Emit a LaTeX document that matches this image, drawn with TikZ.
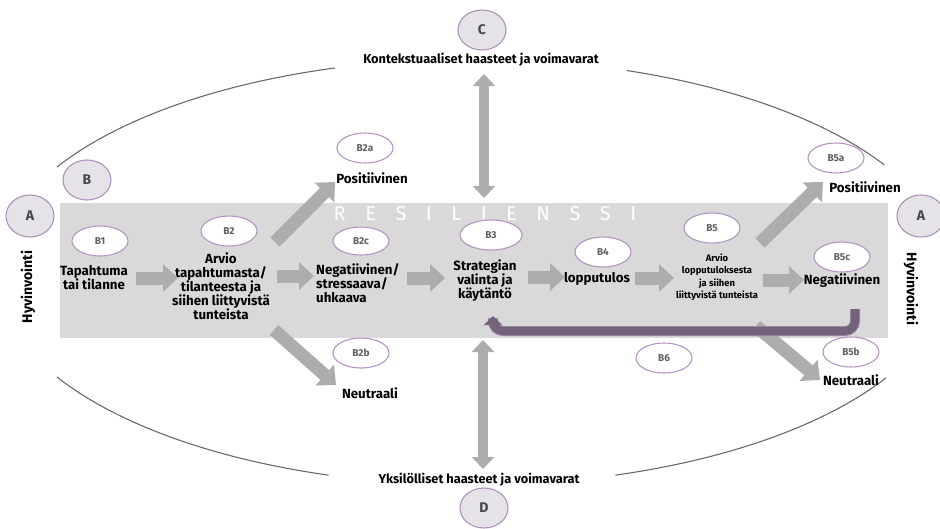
\documentclass[tikz,border=0pt]{standalone}
\usepackage{fontspec}
\setmainfont{Fira Sans}
\usetikzlibrary{arrows.meta,shapes.geometric}

\definecolor{band}{HTML}{D9D9D9}
\definecolor{flow}{HTML}{ADADAD}
\definecolor{ring}{HTML}{B495C2}
\definecolor{tagtext}{HTML}{606060}
\definecolor{loopc}{HTML}{74627A}
\definecolor{loopedge}{HTML}{9C8AA4}
\definecolor{capfill}{HTML}{E5E3E7}
\definecolor{arcc}{HTML}{6A6A6A}

\begin{document}
\begin{tikzpicture}[x=1pt,y=-1pt,
  tag/.style={ellipse, draw=ring, line width=1.1pt, fill=white,
    minimum width=56pt, minimum height=30pt, inner sep=0pt,
    text=tagtext, font=\fontsize{10}{10}\selectfont\bfseries},
  bigtag/.style={tag, fill=capfill, draw=ring!85!gray,
    minimum width=48pt, minimum height=42pt,
    text=black!72, font=\fontsize{14}{14}\selectfont\bfseries},
  lbl/.style={font=\fontsize{13.3}{14}\selectfont\bfseries, align=center, inner sep=0pt},
  small/.style={font=\fontsize{9.4}{12.5}\selectfont\bfseries, align=center, inner sep=0pt},
  side/.style={font=\fontsize{14}{14}\selectfont\bfseries, inner sep=0pt},
  edge/.style={font=\fontsize{12.8}{14}\selectfont\bfseries, inner sep=0pt},
  flowarrow/.style={draw=flow, line width=13pt, -{Triangle[width=27pt,length=15pt]}},
  twoway/.style={draw=flow, line width=10pt,
    {Triangle[width=22pt,length=12pt]}-{Triangle[width=22pt,length=12pt]}},
  feedback/.style={draw=loopc, line width=8pt, rounded corners=10pt,
    -{Triangle[width=18pt,length=9pt]}},
  rim/.style={draw=arcc, line width=1.1pt}
]
\useasboundingbox (0,0) rectangle (940,528);

% outer ring, drawn as four open arcs of one ellipse
\begin{scope}[shift={(472,272)}]
  \draw[rim] (209.5:477 and 213) arc[start angle=209.5, end angle=253.3, x radius=477, y radius=213];
  \draw[rim] (288.9:477 and 213) arc[start angle=288.9, end angle=329.8, x radius=477, y radius=213];
  \draw[rim] (150.5:477 and 213) arc[start angle=150.5, end angle=107.5, x radius=477, y radius=213];
  \draw[rim] (72.5:477 and 213) arc[start angle=72.5, end angle=29.8, x radius=477, y radius=213];
\end{scope}

% resilience band
\fill[band] (60,203) rectangle (888,338);
\node[text=white, inner sep=0pt, font=\fontsize{20}{20}\selectfont] (res) at (485,214)
  {\spaceskip=19.5pt\relax R E S I L I E N S S I};

% texts
\node[lbl] (t1) at (94,278) {Tapahtuma\\tai tilanne};
\node[lbl] (t2) at (221,286) {Arvio\\tapahtumasta/\\tilanteesta ja\\siihen liittyvistä\\tunteista};
\node[lbl] (t2a) at (372,178) {Positiivinen};
\node[lbl] (t2b) at (370,393) {Neutraali};
\node[lbl, align=left, anchor=west] (t2c) at (316,283) {Negatiivinen/\\stressaava/\\uhkaava};
\node[lbl] (t3) at (485,281) {Strategian\\valinta ja\\käytäntö};
\node[lbl] (t4) at (597,279) {lopputulos};
\node[small] (t5) at (717,277) {Arvio\\lopputuloksesta\\ja siihen\\liittyvistä tunteista};
\node[lbl] (t5a) at (865,187) {Positiivinen};
\node[lbl] (t5b) at (851,380) {Neutraali};
\node[lbl] (t5c) at (842,281) {Negatiivinen};
\node[edge] (tc) at (481,60) {Kontekstuaaliset haasteet ja voimavarat};
\node[edge] (td) at (479,480) {Yksilölliset haasteet ja voimavarat};
\node[side, rotate=90] (hl) at (28,287) {Hyvinvointi};
\node[side, rotate=-90] (hr) at (911,289) {Hyvinvointi};

% arrow end points
\coordinate (a1s) at (136,278);  \coordinate (a1e) at (178,278);
\coordinate (a2s) at (277,276);  \coordinate (a2e) at (314,276);
\coordinate (a3s) at (407,278);  \coordinate (a3e) at (445,278);
\coordinate (a4s) at (528,277);  \coordinate (a4e) at (565,277);
\coordinate (a5s) at (635,278);  \coordinate (a5e) at (674,278);
\coordinate (a6s) at (763,280);  \coordinate (a6e) at (804,280);
\coordinate (upLs) at (275,242); \coordinate (upLe) at (335,182);
\coordinate (dnLs) at (274,330); \coordinate (dnLe) at (336,385);
\coordinate (upRs) at (760,243); \coordinate (upRe) at (823,182);
\coordinate (dnRs) at (756,326); \coordinate (dnRe) at (820,380);
\coordinate (cTop) at (484,74);  \coordinate (cBot) at (484,198);
\coordinate (dTop) at (483,340); \coordinate (dBot) at (483,469);
\coordinate (fbS) at (855,309);  \coordinate (fbC1) at (855,331);
\coordinate (fbC2) at (493,331); \coordinate (fbE) at (493,316);

% process arrows
\draw[flowarrow] (a1s) -- (a1e);
\draw[flowarrow] (a2s) -- (a2e);
\draw[flowarrow] (a3s) -- (a3e);
\draw[flowarrow] (a4s) -- (a4e);
\draw[flowarrow] (a5s) -- (a5e);
\draw[flowarrow] (a6s) -- (a6e);
\draw[flowarrow] (upLs) -- (upLe);
\draw[flowarrow] (dnLs) -- (dnLe);
\draw[flowarrow] (upRs) -- (upRe);
\draw[flowarrow] (dnRs) -- (dnRe);
\draw[twoway] (cTop) -- (cBot);
\draw[twoway] (dTop) -- (dBot);

% feedback loop B6: light rim under a darker core
\draw[feedback, draw=loopedge, line width=10pt, -] (fbS) -- (fbC1) -- (fbC2) -- ([yshift=-2pt]fbE);
\draw[feedback] (fbS) -- (fbC1) -- (fbC2) -- (fbE);

% ellipse tags
\node[bigtag] (A1) at (30,216) {A};
\node[bigtag] (A2) at (921,216) {A};
\node[bigtag, minimum height=40pt] (B) at (87,180) {B};
\node[bigtag, minimum height=40pt] (C) at (482,30) {C};
\node[bigtag, minimum height=40pt] (D) at (484,508) {D};
\node[tag] (B1) at (100,241) {B1};
\node[tag] (B2) at (229,231) {B2};
\node[tag] (B2a) at (365,148) {B2a};
\node[tag] (B2b) at (361,353) {B2b};
\node[tag, minimum height=28pt] (B2c) at (361,241) {B2c};
\node[tag, minimum width=62pt] (B3) at (491,235) {B3};
\node[tag] (B4) at (603,252) {B4};
\node[tag] (B5) at (712,228) {B5};
\node[tag] (B5a) at (836,158) {B5a};
\node[tag] (B5b) at (851,352) {B5b};
\node[tag] (B5c) at (842,257) {B5c};
\node[tag] (B6) at (664,358) {B6};
\end{tikzpicture}
\end{document}
